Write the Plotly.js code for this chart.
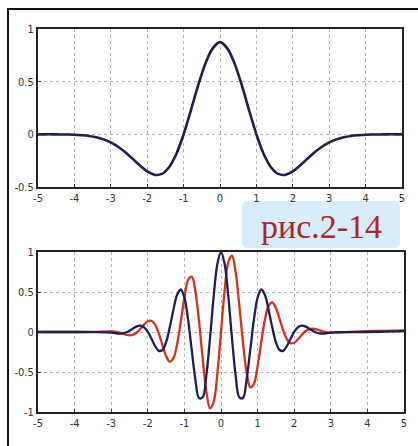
<!DOCTYPE html>
<html>
<head>
<meta charset="utf-8">
<script src="https://cdn.plot.ly/plotly-3.0.1.min.js"></script>
<style>
html,body{margin:0;padding:0;background:#fff;}
#chart{width:418px;height:446px;}
</style>
</head>
<body>
<div id="chart"></div>
<script>
// Top panel: Mexican-hat wavelet
var xHat = [-5,-4.8,-4.6,-4.4,-4.2,-4,-3.8,-3.6,-3.4,-3.2,-3,-2.8,-2.6,-2.4,-2.2,-2,-1.8,-1.6,-1.4,-1.2,-1,-0.8,-0.6,-0.4,-0.2,0,
            0.2,0.4,0.6,0.8,1,1.2,1.4,1.6,1.8,2,2.2,2.4,2.6,2.8,3,3.2,3.4,3.6,3.8,4,4.2,4.4,4.6,4.8,5];
var yHat = [0,0,0,-0.001,-0.002,-0.004,-0.009,-0.016,-0.028,-0.048,-0.077,-0.118,-0.170,-0.232,-0.296,-0.352,-0.384,-0.376,-0.312,-0.186,0,0.227,0.464,0.672,0.816,0.875,
            0.816,0.672,0.464,0.227,0,-0.186,-0.312,-0.376,-0.384,-0.352,-0.296,-0.232,-0.170,-0.118,-0.077,-0.048,-0.028,-0.016,-0.009,-0.004,-0.002,-0.001,0,0,0];

// Bottom panel: Morlet wavelet, real (dark blue) and imaginary (red) parts
var xMor = [-5,-4.5,-4,-3.5,
  -3,-2.9,-2.8,-2.7,-2.6,-2.5,-2.4,-2.3,-2.2,-2.1,-2,-1.9,-1.8,-1.7,-1.6,-1.5,-1.4,-1.3,-1.2,-1.1,-1,-0.9,-0.8,-0.7,-0.6,-0.5,-0.4,-0.3,-0.2,-0.1,
  0,0.1,0.2,0.3,0.4,0.5,0.6,0.7,0.8,0.9,1,1.1,1.2,1.3,1.4,1.5,1.6,1.7,1.8,1.9,2,2.1,2.2,2.3,2.4,2.5,2.6,2.7,2.8,2.9,3,
  3.5,4,4.5,5];
var yReal = [0,0,0,-0.002,
  -0.008,-0.014,-0.019,-0.017,-0.006,0.017,0.045,0.071,0.079,0.058,0.001,-0.085,-0.176,-0.235,-0.225,-0.125,0.058,0.278,0.463,0.531,0.430,0.157,-0.222,-0.594,-0.825,-0.816,-0.543,-0.076,0.445,0.848,
  1.000,0.848,0.445,-0.076,-0.543,-0.816,-0.825,-0.594,-0.222,0.157,0.430,0.531,0.463,0.278,0.058,-0.125,-0.225,-0.235,-0.176,-0.085,0.001,0.058,0.079,0.071,0.045,0.017,-0.006,-0.017,-0.019,-0.014,-0.008,
  -0.002,0,0.005,0.01];
var yImag = [0,0,0,0.002,
  0.008,0.004,-0.006,-0.020,-0.034,-0.041,-0.033,-0.006,0.040,0.094,0.135,0.141,0.091,-0.018,-0.163,-0.300,-0.371,-0.327,-0.152,0.126,0.428,0.648,0.691,0.509,0.132,-0.337,-0.746,-0.953,-0.874,-0.520,
  0.000,0.520,0.874,0.953,0.746,0.337,-0.132,-0.509,-0.691,-0.648,-0.428,-0.126,0.152,0.327,0.371,0.300,0.163,0.018,-0.091,-0.141,-0.135,-0.094,-0.040,0.006,0.033,0.041,0.034,0.020,0.006,-0.004,-0.008,
  0.002,0.01,0.015,0.02];

var xTicks = [-5,-4,-3,-2,-1,0,1,2,3,4,5];
var xTickText = ['-5','-4','-3','-2','-1','0','1','2','3','4','5'];
var yTopTicks = [-0.5,0,0.5,1];
var yTopText = ['-0.5','0','0.5','1'];
var yBotTicks = [-1,-0.5,0,0.5,1];
var yBotText = ['-1','-0.5','0','0.5','1'];
var figLabel = 'рис.2-14';

var navy = '#1f1f4f';
var red = '#d4321f';
var tickFont = {family:'Liberation Sans Narrow, DejaVu Sans Condensed, Liberation Sans, sans-serif', size:11, color:'#333'};

var traces = [
  {x:xHat, y:yHat, xaxis:'x', yaxis:'y', mode:'lines', line:{color:navy, width:2.6, shape:'spline', smoothing:1}, hoverinfo:'skip'},
  {x:xMor, y:yImag, xaxis:'x2', yaxis:'y2', mode:'lines', line:{color:red, width:2.3, shape:'spline', smoothing:1}, hoverinfo:'skip'},
  {x:xMor, y:yReal, xaxis:'x2', yaxis:'y2', mode:'lines', line:{color:navy, width:2.3, shape:'spline', smoothing:1}, hoverinfo:'skip'}
];

function xAx(domain, anchor){
  return {domain:domain, anchor:anchor, range:[-5,5], tickvals:xTicks, ticktext:xTickText,
    showline:true, mirror:true, linecolor:'#222', linewidth:2,
    showgrid:true, gridcolor:'#b4b4b4', griddash:'dot', gridwidth:1, zeroline:false,
    ticks:'inside', ticklen:3, tickcolor:'#333', tickfont:tickFont, fixedrange:true};
}
function yAx(domain, anchor, range, tv, tt){
  return {domain:domain, anchor:anchor, range:range, tickvals:tv, ticktext:tt,
    showline:true, mirror:true, linecolor:'#222', linewidth:2,
    showgrid:true, gridcolor:'#b4b4b4', griddash:'dot', gridwidth:1, zeroline:false,
    ticks:'inside', ticklen:3, tickcolor:'#333', tickfont:tickFont, fixedrange:true};
}

var W=418, H=446, mL=38, mR=14, mT=29, mB=34;
var pw = W-mL-mR, ph = H-mT-mB;
function px(x){return (x-mL)/pw;}
function py(y){return (H-mB-y)/ph;}

// rounded label box (pixel positions converted to paper)
var bx0=242,bx1=400,by0=201,by1=248,r=6;
var boxPath = 'M '+px(bx0+r)+' '+py(by0)+' L '+px(bx1-r)+' '+py(by0)+
  ' Q '+px(bx1)+' '+py(by0)+' '+px(bx1)+' '+py(by0+r)+
  ' L '+px(bx1)+' '+py(by1-r)+' Q '+px(bx1)+' '+py(by1)+' '+px(bx1-r)+' '+py(by1)+
  ' L '+px(bx0+r)+' '+py(by1)+' Q '+px(bx0)+' '+py(by1)+' '+px(bx0)+' '+py(by1-r)+
  ' L '+px(bx0)+' '+py(by0+r)+' Q '+px(bx0)+' '+py(by0)+' '+px(bx0+r)+' '+py(by0)+' Z';

var layout = {
  width:W, height:H, margin:{l:mL, r:mR, t:mT, b:mB},
  paper_bgcolor:'#fff', plot_bgcolor:'#fff', showlegend:false,
  xaxis: xAx([0, px(402)], 'y'),
  yaxis: yAx([py(187), 1], 'x', [-0.5,1], yTopTicks, yTopText),
  xaxis2: xAx([0, 1], 'y2'),
  yaxis2: yAx([0, py(252)], 'x2', [-1,1], yBotTicks, yBotText),
  shapes:[
    {type:'path', xref:'paper', yref:'paper', layer:'above',
     path:'M '+px(8)+' '+py(460)+' L '+px(8)+' '+py(9)+' L '+px(430)+' '+py(9),
     line:{color:'#111', width:2}},
    {type:'path', xref:'paper', yref:'paper', layer:'below', path:boxPath,
     fillcolor:'#d5eefa', line:{width:0}}
  ],
  annotations:[
    {xref:'paper', yref:'paper', x:px(321), y:py(226), xanchor:'center', yanchor:'middle',
     text:figLabel, showarrow:false,
     font:{family:'Liberation Serif, Times New Roman, serif', size:34, color:'#b3222b'}}
  ]
};

Plotly.newPlot('chart', traces, layout, {staticPlot:true, displayModeBar:false});
</script>
</body>
</html>
